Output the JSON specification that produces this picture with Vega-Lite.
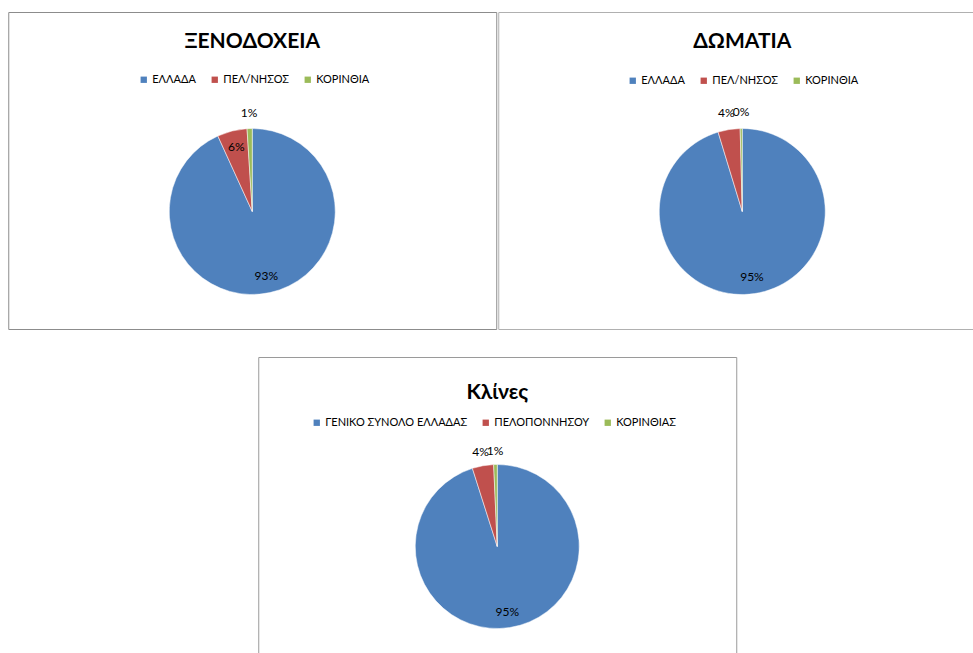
{
  "$schema": "https://vega.github.io/schema/vega-lite/v6.json",
  "padding": {"left": 7, "top": 11, "right": 0, "bottom": 0},
  "background": "#ffffff",
  "spacing": 26,
  "center": true,
  "resolve": {"scale": {"color": "independent"}, "legend": {"color": "independent"}},
  "vconcat": [
    {
      "hconcat": [
        {
          "width": 488,
          "height": 317,
          "view": {"stroke": "#8c8c8c", "strokeWidth": 1},
          "title": {"text": "ΞΕΝΟΔΟΧΕΙΑ", "offset": -40, "frame": "group", "anchor": "middle", "font": "Lato", "fontSize": 21, "fontWeight": "bold", "color": "#000000"},
          "data": {"values": [
            {"idx": 1, "area": "ΕΛΛΑΔΑ", "share": 0.932},
            {"idx": 2, "area": "ΠΕΛ/ΝΗΣΟΣ", "share": 0.058},
            {"idx": 3, "area": "ΚΟΡΙΝΘΙΑ", "share": 0.010}
          ]},
          "encoding": {
            "theta": {"field": "share", "type": "quantitative", "stack": true},
            "order": {"field": "idx", "type": "quantitative"},
            "color": {"field": "area", "type": "nominal",
              "scale": {"domain": ["ΕΛΛΑΔΑ", "ΠΕΛ/ΝΗΣΟΣ", "ΚΟΡΙΝΘΙΑ"], "range": ["#4F81BD", "#C0504D", "#9BBB59"]},
              "legend": {"legendX": 130, "legendY": 62}}
          },
          "layer": [
            {"mark": {"type": "arc", "outerRadius": 83, "yOffset": 41, "stroke": "#ffffff", "strokeWidth": 0.5}},
            {"mark": {"type": "text", "radius": 66, "yOffset": 41, "font": "Lato", "fontSize": 12},
             "encoding": {"text": {"field": "share", "type": "quantitative", "format": ".0%"}, "fill": {"value": "#000000"},
               "opacity": {"condition": {"test": "datum.share > 0.05", "value": 1}, "value": 0}}},
            {"mark": {"type": "text", "radius": 99, "yOffset": 41, "font": "Lato", "fontSize": 12},
             "encoding": {"text": {"field": "share", "type": "quantitative", "format": ".0%"}, "fill": {"value": "#000000"},
               "opacity": {"condition": {"test": "datum.share <= 0.05", "value": 1}, "value": 0}}}
          ]
        },
        {
          "width": 488,
          "height": 317,
          "view": {"stroke": "#b0b0b0", "strokeWidth": 1},
          "title": {"text": "ΔΩΜΑΤΙΑ", "offset": -40, "frame": "group", "anchor": "middle", "font": "Lato", "fontSize": 21, "fontWeight": "bold", "color": "#000000"},
          "data": {"values": [
            {"idx": 1, "area": "ΕΛΛΑΔΑ", "share": 0.953},
            {"idx": 2, "area": "ΠΕΛ/ΝΗΣΟΣ", "share": 0.043},
            {"idx": 3, "area": "ΚΟΡΙΝΘΙΑ", "share": 0.004}
          ]},
          "encoding": {
            "theta": {"field": "share", "type": "quantitative", "stack": true},
            "order": {"field": "idx", "type": "quantitative"},
            "color": {"field": "area", "type": "nominal",
              "scale": {"domain": ["ΕΛΛΑΔΑ", "ΠΕΛ/ΝΗΣΟΣ", "ΚΟΡΙΝΘΙΑ"], "range": ["#4F81BD", "#C0504D", "#9BBB59"]},
              "legend": {"legendX": 129, "legendY": 63}}
          },
          "layer": [
            {"mark": {"type": "arc", "outerRadius": 83, "yOffset": 41, "stroke": "#ffffff", "strokeWidth": 0.5}},
            {"mark": {"type": "text", "radius": 66, "yOffset": 41, "font": "Lato", "fontSize": 12},
             "encoding": {"text": {"field": "share", "type": "quantitative", "format": ".0%"}, "fill": {"value": "#000000"},
               "opacity": {"condition": {"test": "datum.share > 0.05", "value": 1}, "value": 0}}},
            {"mark": {"type": "text", "radius": 100, "yOffset": 41, "font": "Lato", "fontSize": 12},
             "encoding": {"text": {"field": "share", "type": "quantitative", "format": ".0%"}, "fill": {"value": "#000000"},
               "opacity": {"condition": {"test": "datum.share <= 0.05", "value": 1}, "value": 0}}}
          ]
        }
      ],
      "spacing": 0,
      "resolve": {"scale": {"color": "independent"}, "legend": {"color": "independent"}}
    },
    {
      "width": 478,
      "height": 299,
      "view": {"stroke": "#9a9a9a", "strokeWidth": 1},
      "title": {"text": "Κλίνες", "offset": -46, "frame": "group", "anchor": "middle", "font": "Lato", "fontSize": 21, "fontWeight": "bold", "color": "#000000"},
      "data": {"values": [
        {"idx": 1, "area": "ΓΕΝΙΚΟ ΣΥΝΟΛΟ ΕΛΛΑΔΑΣ", "share": 0.951},
        {"idx": 2, "area": "ΠΕΛΟΠΟΝΝΗΣΟΥ", "share": 0.042},
        {"idx": 3, "area": "ΚΟΡΙΝΘΙΑΣ", "share": 0.007}
      ]},
      "encoding": {
        "theta": {"field": "share", "type": "quantitative", "stack": true},
        "order": {"field": "idx", "type": "quantitative"},
        "color": {"field": "area", "type": "nominal",
          "scale": {"domain": ["ΓΕΝΙΚΟ ΣΥΝΟΛΟ ΕΛΛΑΔΑΣ", "ΠΕΛΟΠΟΝΝΗΣΟΥ", "ΚΟΡΙΝΘΙΑΣ"], "range": ["#4F81BD", "#C0504D", "#9BBB59"]},
          "legend": {"legendX": 53, "legendY": 60}}
      },
      "layer": [
        {"mark": {"type": "arc", "outerRadius": 82, "yOffset": 40, "stroke": "#ffffff", "strokeWidth": 0.5}},
        {"mark": {"type": "text", "radius": 66, "yOffset": 40, "font": "Lato", "fontSize": 12},
         "encoding": {"text": {"field": "share", "type": "quantitative", "format": ".0%"}, "fill": {"value": "#000000"},
           "opacity": {"condition": {"test": "datum.share > 0.05", "value": 1}, "value": 0}}},
        {"mark": {"type": "text", "radius": 96, "yOffset": 40, "font": "Lato", "fontSize": 12},
         "encoding": {"text": {"field": "share", "type": "quantitative", "format": ".0%"}, "fill": {"value": "#000000"},
           "opacity": {"condition": {"test": "datum.share <= 0.05", "value": 1}, "value": 0}}}
      ]
    }
  ],
  "config": {
    "legend": {
      "orient": "none",
      "direction": "horizontal",
      "title": null,
      "symbolType": "square",
      "symbolSize": 40,
      "symbolStrokeWidth": 0,
      "labelFont": "Lato",
      "labelFontSize": 11,
      "labelColor": "#000000",
      "columnPadding": 13,
      "labelOffset": 3,
      "padding": 0
    }
  }
}
